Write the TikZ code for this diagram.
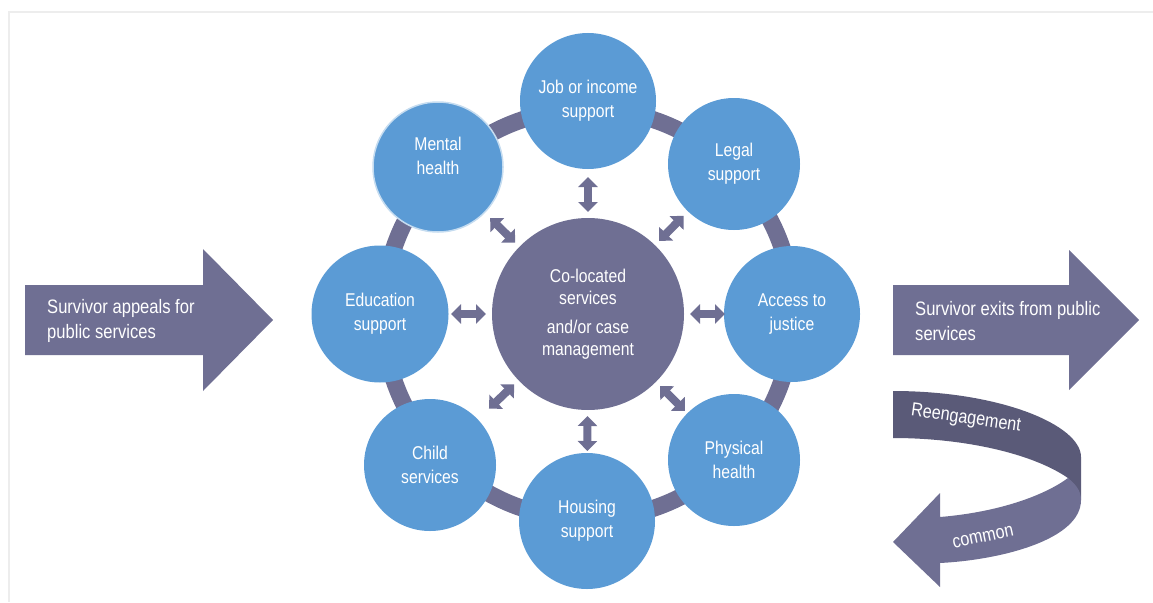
\documentclass[tikz,border=0pt]{standalone}
\usepackage{fontspec}
\setmainfont{Liberation Sans}[FakeStretch=0.85]
\usetikzlibrary{arrows.meta,calc}
\definecolor{cblue}{HTML}{5B9BD5}
\definecolor{cpurple}{HTML}{6F6F93}
\definecolor{cdark}{HTML}{5A5A78}
\definecolor{cframe}{HTML}{EDEDED}
\definecolor{cedge}{HTML}{C5DCF0}
\begin{document}
\begin{tikzpicture}[x=1pt,y=-1pt,
  svc/.style={circle,fill=cblue,text=white,inner sep=0pt,align=center,
    font=\fontsize{18.5}{24}\selectfont},
  coretxt/.style={circle,fill=cpurple,text=white,inner sep=0pt,align=center,
    font=\fontsize{18.5}{22.5}\selectfont},
  dbl/.style={draw=cpurple,line width=8pt,
    arrows={Triangle[width=19pt,length=10pt]-Triangle[width=19pt,length=10pt]}},
  bigtxt/.style={text=white,inner sep=0pt,align=left,
    font=\fontsize{19.5}{24.5}\selectfont},
  ribtxt/.style={text=white,inner sep=0pt,font=\fontsize{19}{20}\selectfont}]
\useasboundingbox (0,0) rectangle (1153,602);
% frame
\draw[cframe,line width=2pt] (9,602) -- (9,12) -- (1153,12);
% ring
\draw[cpurple,line width=17pt] (588,314) circle (205);
% centre
\node[coretxt,minimum size=192] (core) at (588,314)
  {Co-located\\services\\[6pt]and/or case\\management};
% services
\node[svc,minimum size=136] (job) at (588,101) {Job or income\\support};
\node[svc,minimum size=132] (legal) at (734,164) {Legal\\support};
\node[svc,minimum size=136] (access) at (792,314) {Access to\\justice};
\node[svc,minimum size=132] (phys) at (734,460) {Physical\\health};
\node[svc,minimum size=136] (housing) at (587,521) {Housing\\support};
\node[svc,minimum size=132] (child) at (430,465) {Child\\services};
\node[svc,minimum size=137] (edu) at (380,314) {Education\\support};
\node[svc,minimum size=130,draw=cedge,line width=1.5pt] (mental) at (438,167) {};
\node[svc,fill=none] (mentaltxt) at (438,156) {Mental\\health};
% double arrows
\foreach \m in {job,legal,access,phys,housing,child,edu,mental}
  \draw[dbl] ($(core)!102pt!(\m)$) -- ($(core)!137pt!(\m)$);
% big arrows
\fill[cpurple] (25,285) -- (203,285) -- (203,249) -- (273,320) -- (203,391)
  -- (203,355) -- (25,355) -- cycle;
\node[bigtxt,anchor=west] (intxt) at (47,321) {Survivor appeals for\\public services};
\fill[cpurple] (893,285) -- (1069,285) -- (1069,250) -- (1139,320) -- (1069,390)
  -- (1069,355) -- (893,355) -- cycle;
\node[bigtxt,anchor=west] (outtxt) at (915,321) {Survivor exits from public\\services};
% reengagement ribbon
\fill[cdark] (893,391) .. controls (1000,391) and (1081,425) .. (1081,457)
  -- (1081,500) -- (1068,478)
  .. controls (1030,452) and (960,438) .. (893,438) -- cycle;
\fill[cpurple] (1068,478) .. controls (1075,484) and (1081,490) .. (1081,500)
  .. controls (1081,540) and (1000,560) .. (940,563)
  -- (940,587) -- (893,542) -- (940,493) -- (940,517)
  .. controls (1000,512) and (1045,495) .. (1068,478) -- cycle;
\node[ribtxt,rotate=-8] (reeng) at (966,419) {Reengagement};
\node[ribtxt,rotate=12] (common) at (983,537) {common};
\end{tikzpicture}
\end{document}
